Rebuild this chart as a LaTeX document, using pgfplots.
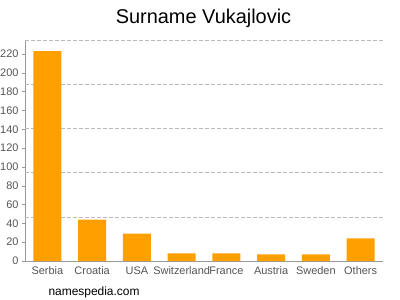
\documentclass[border=0pt]{standalone}
\usepackage{pgfplots}
\pgfplotsset{compat=1.18}
\usepackage{fontspec}
\setmainfont{Liberation Sans}
\definecolor{barorange}{HTML}{FFA000}
\definecolor{labgray}{HTML}{555555}
\definecolor{axgray}{HTML}{999999}
\definecolor{gridgray}{HTML}{BBBBBB}
\begin{document}
\begin{tikzpicture}[x=1bp,y=1bp]
\path[use as bounding box] (0,0) rectangle (400,300);
\begin{axis}[
  at={(25bp,39bp)}, anchor=south west,
  scale only axis, width=358bp, height=220.7bp,
  xmin=-0.5, xmax=7.5, ymin=0, ymax=234.5,
  axis x line=bottom, axis y line=left,
  axis line style={axgray, -},
  xtick=data,
  xticklabels={Serbia,Croatia,USA,Switzerland,France,Austria,Sweden,Others},
  x tick style={draw=none},
  ytick={0,20,...,220},
  y tick style={axgray},
  tick align=outside, major tick length=3bp,
  tick label style={font=\fontsize{11}{13}\selectfont, text=labgray},
  /pgf/number format/assume math mode=true,
  xticklabel style={anchor=base, yshift=-10bp, inner sep=0pt},
  extra y ticks={46.9,93.8,140.7,187.6,234.5},
  extra y tick labels={},
  extra y tick style={grid=major, major tick length=0pt, major grid style={gridgray, dash pattern=on 4bp off 2bp, line width=0.6pt}},
  ymajorgrids=false,
  clip=false,
]
\addplot[ybar, bar width=28bp, fill=barorange, draw=none] coordinates {
  (0,223) (1,44) (2,29) (3,8) (4,8) (5,7) (6,7) (7,24)
};
\end{axis}
\node[font=\fontsize{20}{22}\selectfont] at (203.5,282) {Surname Vukajlovic};
\node[font=\fontsize{12}{14}\selectfont, anchor=west] at (45,8) {namespedia.com};
\end{tikzpicture}
\end{document}
